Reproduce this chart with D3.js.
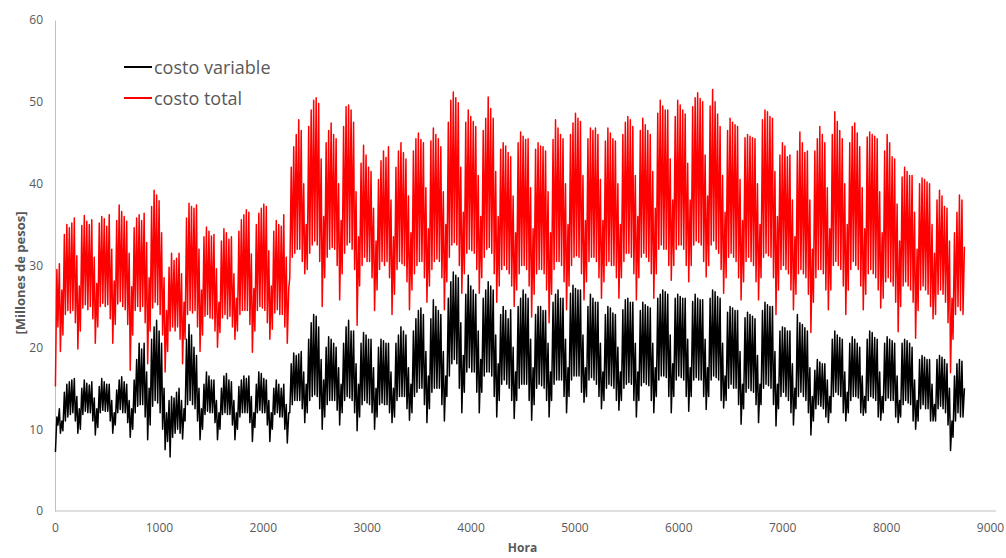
<!DOCTYPE html>
<html>
<head>
<meta charset="utf-8">
<script src="https://cdn.jsdelivr.net/npm/d3@7"></script>
<style>
  html, body { margin: 0; padding: 0; background: #fff; }
  svg { display: block; }
  text { font-family: "Open Sans", "Noto Sans", sans-serif; }
</style>
</head>
<body>
<svg id="chart" width="1006" height="558"></svg>
<script>
// Daily extremes (millions of pesos), one value per day of the year, weeks Fri..Thu per row.
// costo total: daily maximum
const totalMax = [
  29.5,30.2,27.0,33.8,35.0,34.6,35.2,
  35.8,31.2,27.5,34.9,36.1,35.4,35.0,
  35.6,31.0,27.8,35.2,36.0,35.7,34.8,
  36.2,32.0,28.1,35.5,37.4,36.6,36.0,
  35.4,31.5,27.4,34.6,35.8,36.2,35.5,
  36.4,32.8,28.5,37.2,39.2,38.6,37.9,
  34.0,28.5,24.5,29.8,31.5,30.6,30.9,
  31.5,29.0,25.5,35.8,37.6,37.2,37.0,
  37.4,32.0,27.0,33.5,34.7,34.2,33.6,
  33.8,29.6,25.5,33.0,34.5,34.0,33.2,
  33.5,29.0,26.0,34.2,35.6,36.2,36.8,
  36.5,31.4,27.2,35.0,36.4,37.0,37.5,
  37.2,31.8,27.5,34.2,35.5,35.0,34.8,
  36.2,31.0,27.2,42.0,44.5,46.0,47.8,
  46.5,40.0,35.0,47.0,49.0,50.2,50.5,
  49.8,43.0,36.0,45.0,46.5,47.4,46.0,
  45.5,40.0,35.5,47.0,49.4,49.6,49.0,
  47.5,39.0,33.5,42.5,44.7,43.5,42.0,
  41.5,37.0,33.0,40.5,42.8,44.0,43.2,
  44.5,38.0,33.5,42.0,44.0,45.0,43.8,
  43.0,38.5,34.0,44.0,45.5,46.2,45.4,
  45.0,39.5,34.5,45.2,46.8,46.0,45.5,
  44.5,39.0,35.0,47.5,50.2,51.2,50.5,
  49.9,42.0,36.5,47.5,49.0,48.2,47.6,
  47.0,41.0,36.0,46.5,48.0,50.6,49.2,
  48.0,41.5,36.0,44.2,45.0,44.6,43.8,
  43.3,38.5,34.0,45.0,46.3,45.8,45.4,
  45.5,39.5,34.5,44.2,45.0,44.6,44.5,
  44.0,39.0,34.0,45.4,47.8,46.8,46.0,
  45.5,40.0,35.0,46.0,47.4,48.6,48.0,
  47.6,41.0,35.5,45.5,46.8,46.5,46.8,
  46.0,40.5,35.5,45.2,46.8,46.2,45.5,
  45.2,40.0,35.0,46.0,47.5,48.2,47.8,
  47.0,41.0,36.0,46.5,48.0,47.2,46.5,
  46.0,41.5,37.0,48.6,50.2,49.5,49.0,
  49.0,43.0,38.0,48.2,50.2,49.6,49.0,
  48.5,42.5,38.0,49.4,50.5,51.1,50.4,
  50.0,43.5,38.5,49.5,51.5,50.0,48.5,
  47.0,41.0,36.5,46.5,48.0,47.5,47.2,
  47.0,40.5,35.5,45.6,46.0,45.8,45.6,
  45.5,40.0,35.0,47.8,49.0,48.8,48.2,
  48.0,41.5,36.0,43.5,45.0,44.6,43.3,
  43.5,38.0,33.5,44.0,46.3,45.0,43.8,
  44.0,38.0,32.0,44.0,45.5,47.0,46.0,
  45.0,39.5,34.5,46.0,48.8,47.6,46.5,
  45.5,40.0,35.0,45.0,47.0,47.4,46.2,
  44.5,39.5,34.5,45.7,46.3,46.0,45.8,
  45.5,39.0,34.0,44.0,46.0,45.0,43.3,
  43.0,37.5,33.0,40.8,42.0,41.5,41.0,
  41.0,36.5,32.0,40.0,40.7,40.5,40.2,
  40.0,35.0,31.5,38.0,39.2,38.5,37.2,
  37.0,33.0,26.0,34.0,36.5,38.6,38.0,
  32.3
];

// costo total: daily minimum
const totalMin = [
  15.2,22.5,19.5,21.5,24.0,24.5,24.2,
  24.5,23.0,19.8,22.0,24.8,25.2,24.6,
  25.0,23.5,20.5,22.5,25.0,25.4,25.0,
  25.2,23.5,20.5,22.8,25.3,25.6,25.0,
  24.6,22.8,17.2,21.5,24.5,25.0,24.4,
  25.0,23.0,18.0,22.0,24.8,25.5,25.2,
  24.0,21.5,17.0,19.5,22.0,22.5,22.0,
  22.5,21.0,18.0,21.0,24.0,24.5,24.2,
  24.5,22.5,19.5,21.5,23.8,24.0,23.6,
  23.5,22.0,20.0,21.8,23.6,24.0,23.5,
  23.8,22.5,21.0,22.0,24.0,24.5,24.5,
  24.5,22.8,19.4,22.0,24.5,25.0,24.8,
  24.5,23.0,21.0,22.2,24.2,24.6,24.0,
  24.0,22.5,20.5,28.5,31.0,31.5,32.0,
  32.0,30.5,29.0,29.5,31.5,32.5,33.0,
  32.5,30.5,25.0,28.5,31.0,32.0,32.2,
  32.0,30.0,25.8,29.0,31.5,32.5,32.8,
  32.0,29.5,22.7,27.5,30.0,31.0,30.5,
  30.5,28.5,24.5,27.0,29.5,30.5,30.0,
  30.5,28.5,24.0,26.5,29.5,30.5,30.2,
  30.0,28.0,24.6,27.0,29.0,30.0,30.5,
  30.5,28.5,25.5,27.5,29.5,30.5,30.8,
  30.5,28.5,24.6,28.0,31.0,32.5,32.8,
  32.5,30.0,26.6,29.0,31.5,32.0,31.8,
  31.5,29.5,26.6,28.5,31.0,32.0,32.2,
  31.5,29.0,25.5,27.5,29.5,30.0,29.5,
  29.0,27.5,25.0,27.0,29.0,30.0,30.0,
  29.5,27.5,23.7,26.5,29.0,29.5,29.5,
  29.0,27.0,23.0,26.5,29.5,30.5,30.5,
  30.0,28.0,24.6,27.5,30.0,31.0,31.2,
  31.0,29.0,25.8,28.0,30.5,31.0,31.0,
  30.5,28.5,26.0,28.0,30.0,30.5,30.0,
  30.0,28.5,26.0,28.5,30.5,31.5,31.5,
  31.0,29.0,25.8,28.5,31.0,31.5,31.0,
  30.5,29.0,26.0,29.0,32.0,32.5,32.0,
  32.0,30.0,28.2,30.0,32.0,32.5,32.5,
  32.0,30.0,28.0,30.0,32.5,33.0,32.8,
  32.5,30.5,28.6,30.0,32.5,33.0,32.0,
  31.5,29.5,26.6,28.5,31.0,31.5,31.0,
  30.5,28.5,25.8,28.0,30.5,31.0,30.5,
  30.0,28.0,25.8,28.5,31.0,31.5,31.2,
  31.0,28.5,24.0,27.0,29.5,30.0,29.5,
  29.0,27.0,24.6,26.5,29.0,29.5,29.0,
  28.5,26.5,21.8,25.5,28.5,29.5,29.5,
  29.0,27.0,24.6,27.0,30.0,30.5,30.0,
  29.5,27.5,24.0,27.0,29.5,30.5,30.0,
  29.5,27.5,24.6,26.5,29.0,29.5,29.0,
  28.5,27.0,24.8,26.0,28.0,28.5,28.0,
  27.5,25.5,21.9,25.0,27.5,28.0,27.5,
  27.0,25.5,21.1,24.5,27.0,27.5,27.0,
  26.5,25.0,23.5,24.0,26.5,27.0,26.5,
  25.5,23.0,16.9,21.0,24.0,25.0,24.5,
  24.0
];

// costo variable: daily maximum
const variableMax = [
  11.5,12.5,11.0,14.5,15.5,15.8,16.0,
  16.2,14.0,12.5,15.0,16.0,15.6,15.4,
  15.8,13.8,12.5,15.2,16.2,15.8,15.5,
  15.5,13.5,12.0,14.8,16.0,16.4,15.8,
  15.5,13.5,12.5,16.0,18.5,20.5,19.8,
  20.5,17.0,15.0,21.0,22.5,23.3,22.0,
  20.5,15.0,12.0,13.5,14.0,13.8,14.5,
  15.0,13.5,12.5,21.0,22.8,21.5,20.0,
  19.0,15.0,12.5,15.5,17.0,16.5,16.0,
  16.0,13.5,12.0,15.0,16.5,16.8,16.0,
  15.8,13.5,12.0,15.2,16.0,16.5,16.2,
  16.5,14.0,12.0,15.5,17.0,16.8,16.2,
  16.0,13.5,12.0,15.0,16.0,15.5,15.0,
  15.5,13.0,12.0,18.0,19.3,19.0,19.2,
  19.5,17.0,15.5,21.0,23.0,24.0,23.8,
  22.5,18.5,16.0,20.0,21.3,21.0,20.5,
  20.0,17.5,15.5,20.5,22.5,23.3,22.0,
  22.0,18.0,15.5,20.5,21.8,21.5,21.0,
  21.0,17.5,15.0,20.0,21.0,20.8,20.5,
  20.5,17.0,15.0,20.5,21.5,22.5,22.0,
  21.5,17.5,15.5,22.0,23.5,24.5,24.8,
  24.0,19.5,16.5,23.5,25.8,25.0,24.5,
  24.0,19.5,16.5,26.0,28.0,29.2,28.8,
  28.5,23.0,19.0,26.5,28.8,27.5,27.0,
  26.5,22.0,18.5,26.0,27.0,28.0,27.5,
  27.0,21.5,18.0,24.0,25.0,24.5,23.5,
  24.6,20.0,17.0,25.0,26.0,27.0,26.5,
  26.0,21.0,17.5,24.0,25.0,25.0,24.5,
  24.5,20.5,17.0,25.5,26.5,27.0,26.0,
  26.0,21.0,17.5,26.6,27.6,27.2,27.0,
  27.0,21.5,17.5,25.0,26.5,26.0,25.5,
  25.5,20.5,17.0,24.0,25.0,24.8,24.2,
  24.0,20.0,17.0,24.6,25.8,26.0,25.5,
  25.5,20.5,17.0,24.5,25.5,25.2,25.0,
  24.8,20.5,17.5,26.0,26.5,27.0,26.8,
  26.5,21.5,18.0,26.0,26.5,26.2,26.0,
  26.0,21.0,17.5,25.6,26.5,26.0,25.8,
  25.8,21.0,17.5,26.0,27.0,26.8,26.2,
  26.0,20.5,16.5,24.3,25.0,24.8,24.5,
  24.5,19.5,15.5,23.6,24.3,24.0,23.8,
  23.5,19.0,15.5,24.5,25.5,25.2,25.0,
  25.0,19.5,15.5,22.0,22.5,22.4,22.0,
  22.0,18.0,15.0,24.0,23.0,22.8,22.4,
  22.0,17.5,14.0,17.2,18.5,18.2,18.0,
  18.0,16.0,14.0,21.0,22.0,21.5,21.2,
  21.0,17.0,14.5,20.5,21.3,21.0,20.5,
  20.0,16.5,14.0,21.0,22.0,21.8,21.2,
  21.0,17.0,14.0,20.5,21.3,21.0,20.8,
  20.5,16.5,13.5,20.5,21.0,20.8,20.5,
  20.0,16.0,13.5,18.5,19.0,18.8,18.5,
  18.5,15.5,13.0,18.5,19.0,18.8,18.5,
  18.0,15.0,11.0,16.5,18.0,18.5,18.3,
  15.0
];

// costo variable: daily minimum
const variableMin = [
  7.2,10.5,9.5,9.8,11.0,11.5,11.8,
  12.0,11.0,9.5,10.0,11.8,12.2,12.0,
  12.0,11.0,9.3,10.2,12.0,12.3,12.2,
  12.2,11.0,9.5,10.5,12.0,12.4,12.0,
  12.0,10.8,9.0,10.0,12.0,12.8,13.0,
  13.0,11.5,8.7,10.5,12.8,13.5,13.2,
  12.0,10.0,7.5,8.5,6.6,9.0,9.5,
  10.0,9.5,8.8,11.0,13.0,13.5,13.0,
  12.5,11.0,8.7,10.0,11.8,12.2,12.0,
  12.0,10.8,8.7,10.0,11.8,12.0,11.8,
  11.8,10.5,8.7,10.0,11.5,12.0,12.0,
  12.0,10.8,8.5,10.2,12.0,12.3,12.0,
  12.0,10.5,8.5,10.0,11.8,12.0,11.5,
  11.5,10.0,8.3,12.0,13.0,13.5,13.5,
  13.5,12.5,10.8,12.0,13.5,14.0,14.2,
  14.0,12.5,10.0,11.5,13.0,13.5,13.5,
  13.5,12.3,10.5,12.0,13.5,14.0,13.8,
  13.5,12.0,9.8,11.5,13.0,13.5,13.2,
  13.0,12.0,10.0,11.5,13.0,13.2,13.0,
  13.0,12.0,10.8,11.5,13.5,14.0,14.0,
  14.0,12.5,11.1,12.0,14.0,14.5,15.0,
  15.0,13.0,10.8,12.5,14.5,15.0,15.0,
  15.0,13.0,11.0,14.0,16.5,18.0,18.5,
  18.0,15.0,12.0,14.5,17.0,17.5,17.0,
  17.0,14.5,12.0,14.5,16.5,17.0,17.0,
  16.5,14.0,11.5,13.5,15.5,16.0,15.5,
  15.0,13.5,11.3,13.5,15.0,15.5,15.5,
  15.5,13.5,11.1,13.0,15.0,15.5,15.3,
  15.0,13.5,11.5,13.5,15.5,16.0,16.0,
  16.0,14.0,12.0,14.0,16.0,16.5,16.5,
  16.5,14.5,13.3,14.0,16.0,16.3,16.0,
  15.5,14.0,12.5,13.5,15.0,15.5,15.3,
  15.0,13.5,12.3,13.5,15.0,15.5,15.7,
  15.5,13.5,11.5,13.5,15.3,15.7,15.5,
  15.3,13.5,12.0,14.0,16.0,16.5,16.5,
  16.3,14.0,12.0,14.0,16.0,16.5,16.3,
  16.0,14.0,12.2,14.0,16.0,16.3,16.0,
  16.0,14.0,12.4,14.0,16.0,16.5,16.3,
  16.0,13.5,12.6,13.5,15.0,15.5,15.0,
  15.0,13.0,10.6,12.5,14.5,15.0,14.7,
  14.5,13.0,10.8,13.0,15.0,15.5,15.3,
  15.0,13.0,10.4,12.5,14.0,14.5,14.0,
  13.5,12.0,10.5,12.5,14.0,14.5,14.0,
  13.5,12.0,9.3,11.0,12.5,13.0,12.8,
  12.5,11.5,10.8,12.0,14.0,14.5,14.2,
  14.0,12.0,11.0,12.0,13.5,14.0,14.0,
  13.8,12.0,11.7,12.0,13.5,14.0,13.8,
  13.5,11.5,11.1,12.0,13.5,13.8,13.5,
  13.5,11.5,10.8,11.5,13.0,13.5,13.2,
  13.0,11.0,10.0,11.0,12.5,13.0,12.5,
  12.5,11.0,11.0,11.0,12.5,12.8,12.5,
  12.0,10.5,7.4,9.0,11.0,12.0,11.5,
  11.5
];

const xTicks = [0, 1000, 2000, 3000, 4000, 5000, 6000, 7000, 8000, 9000];
const yTicks = [0, 10, 20, 30, 40, 50, 60];
const seriesNames = ["costo variable", "costo total"];
const seriesColors = ["#000000", "#ff0000"];
const xTitle = "Hora";
const yTitle = "[Millones de pesos]";

// Hour of the day at which the night low and the evening high occur
const lowHour = 4, highHour = 18;

function hourly(minArr, maxArr) {
  const pts = [];
  minArr.forEach((v, d) => {
    pts.push([d * 24 + lowHour, v]);
    pts.push([d * 24 + highHour, maxArr[d]]);
  });
  return pts;
}

const svg = d3.select("#chart");
const plotLeft = 55, plotRight = 990, plotTop = 20, plotBottom = 511;

const x = d3.scaleLinear().domain([0, 9000]).range([plotLeft, plotRight]);
const y = d3.scaleLinear().domain([0, 60]).range([plotBottom, plotTop]);

const axisColor = "#bfbfbf";
const labelColor = "#595959";

// Axes
const gx = svg.append("g").attr("transform", `translate(0,${plotBottom})`)
  .call(d3.axisBottom(x).tickValues(xTicks).tickSize(0).tickPadding(12).tickFormat(d3.format("d")));
gx.select(".domain").attr("stroke", axisColor).attr("d", `M${plotLeft},0H${plotRight + 6}`);
gx.selectAll("text").attr("fill", labelColor).style("font-size", "12px");

const gy = svg.append("g").attr("transform", `translate(${plotLeft},0)`)
  .call(d3.axisLeft(y).tickValues(yTicks).tickSize(0).tickPadding(12));
gy.select(".domain").attr("stroke", axisColor);
gy.selectAll("text").attr("fill", labelColor).style("font-size", "12px");

// Axis titles
svg.append("text")
  .attr("x", (plotLeft + plotRight) / 2).attr("y", 552)
  .attr("text-anchor", "middle")
  .attr("fill", labelColor).style("font-size", "12px").style("font-weight", "bold")
  .text(xTitle);

svg.append("text")
  .attr("transform", "translate(20,273) rotate(-90)")
  .attr("text-anchor", "middle").attr("dominant-baseline", "central")
  .attr("fill", labelColor).style("font-size", "13px").style("font-weight", "bold")
  .text(yTitle);

// Series lines
const line = d3.line().x(d => x(d[0])).y(d => y(d[1]));
const data = [hourly(variableMin, variableMax), hourly(totalMin, totalMax)];

data.forEach((pts, i) => {
  svg.append("path")
    .datum(pts)
    .attr("fill", "none")
    .attr("stroke", seriesColors[i])
    .attr("stroke-width", 1.5)
    .attr("stroke-linejoin", "round")
    .attr("d", line);
});

// Legend
const legend = svg.append("g").attr("transform", "translate(124,67)");
seriesNames.forEach((name, i) => {
  const g = legend.append("g").attr("transform", `translate(0,${i * 31})`);
  g.append("line").attr("x1", 0).attr("x2", 28).attr("y1", 0).attr("y2", 0)
    .attr("stroke", seriesColors[i]).attr("stroke-width", 2);
  g.append("text").attr("x", 30).attr("y", 0)
    .attr("dominant-baseline", "central")
    .attr("fill", labelColor).style("font-size", "18px")
    .text(name);
});
</script>
</body>
</html>
